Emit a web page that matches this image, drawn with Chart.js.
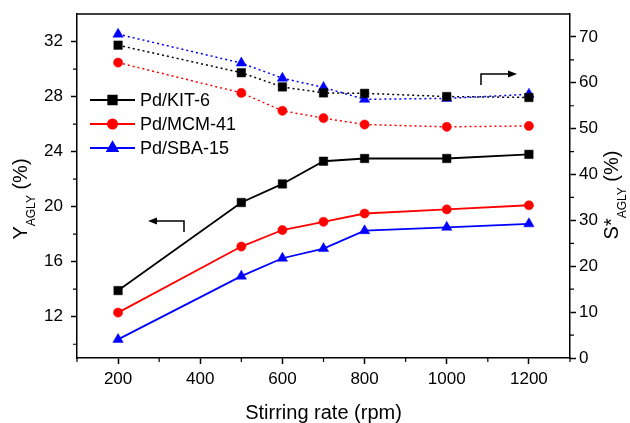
<!DOCTYPE html>
<html>
<head>
<meta charset="utf-8">
<script src="https://cdn.jsdelivr.net/npm/chart.js@4.4.1/dist/chart.umd.min.js"></script>
<style>
  html, body { margin: 0; padding: 0; background: #fff; }
  canvas { display: block; }
</style>
</head>
<body>
<canvas id="chart-stirring" width="630" height="423"></canvas>
<script>
// Stirring rate series: yield (left axis, solid) and selectivity (right axis, dotted)
const rates = [200, 500, 600, 700, 800, 1000, 1200];
const yieldKit = [13.9, 20.3, 21.65, 23.3, 23.5, 23.5, 23.8];
const yieldMcm = [12.3, 17.1, 18.3, 18.9, 19.5, 19.8, 20.1];
const yieldSba = [10.35, 14.95, 16.25, 16.95, 18.25, 18.5, 18.75];
const selKit = [68.2, 62.2, 59.1, 57.8, 57.7, 57.0, 56.8];
const selMcm = [64.4, 57.8, 53.9, 52.3, 50.9, 50.4, 50.6];
const selSba = [70.6, 64.3, 61.0, 59.0, 56.4, 56.6, 57.5];

const catalysts = ['Pd/KIT-6', 'Pd/MCM-41', 'Pd/SBA-15'];
const xTicks = [200, 400, 600, 800, 1000, 1200];
const yTicks = [12, 16, 20, 24, 28, 32];
const y1Ticks = [0, 10, 20, 30, 40, 50, 60, 70];

const FONT = "'Liberation Sans', Arial, sans-serif";
const colors = ['#000000', '#ff0000', '#0000ff'];
const styles = ['rect', 'circle', 'triangle'];
const radii = [6, 4.6, 6];

function pts(values) {
    return rates.map((r, i) => ({ x: r, y: values[i] }));
}

function series(label, values, idx, axis, dotted) {
    return {
        label: label,
        data: pts(values),
        yAxisID: axis,
        borderColor: colors[idx],
        backgroundColor: colors[idx],
        borderWidth: dotted ? 1.5 : 1.8,
        borderDash: dotted ? [2, 3] : [],
        pointStyle: styles[idx],
        pointRadius: radii[idx],
        pointBorderWidth: 0.5,
        pointBorderColor: colors[idx],
        pointBackgroundColor: colors[idx],
        tension: 0
    };
}

// Minor ticks, top frame line, legend, arrows and axis titles
const decorations = {
    id: 'decorations',
    afterDraw(chart) {
        const ctx = chart.ctx;
        const area = chart.chartArea;
        const sx = chart.scales.x, sy = chart.scales.y, sy1 = chart.scales.y1;
        ctx.save();
        ctx.strokeStyle = '#000';
        ctx.fillStyle = '#000';
        ctx.lineWidth = 1.5;

        // top frame
        ctx.beginPath();
        ctx.moveTo(area.left, area.top);
        ctx.lineTo(area.right, area.top);
        ctx.stroke();

        // minor ticks
        ctx.lineWidth = 1.2;
        ctx.beginPath();
        for (let v = 100; v <= 1300; v += 200) {
            const px = sx.getPixelForValue(v);
            ctx.moveTo(px, area.bottom);
            ctx.lineTo(px, area.bottom + 4);
        }
        for (let v = 10; v < 34; v += 4) {
            const py = sy.getPixelForValue(v);
            ctx.moveTo(area.left, py);
            ctx.lineTo(area.left - 4, py);
        }
        for (let v = 5; v < 75; v += 10) {
            const py = sy1.getPixelForValue(v);
            ctx.moveTo(area.right, py);
            ctx.lineTo(area.right + 4, py);
        }
        ctx.stroke();

        // legend
        ctx.font = '18px ' + FONT;
        ctx.textBaseline = 'middle';
        ctx.textAlign = 'left';
        catalysts.forEach((name, i) => {
            const y = 100 + i * 24;
            ctx.strokeStyle = colors[i];
            ctx.fillStyle = colors[i];
            ctx.lineWidth = 1.8;
            ctx.beginPath();
            ctx.moveTo(90, y);
            ctx.lineTo(135, y);
            ctx.stroke();
            Chart.helpers.drawPoint(ctx, { pointStyle: styles[i], radius: radii[i], borderWidth: 0.5 }, 112.5, y);
            ctx.fill();
            ctx.fillStyle = '#000';
            ctx.fillText(name, 140, y + 1);
        });

        // axis arrows
        ctx.strokeStyle = '#000';
        ctx.fillStyle = '#000';
        ctx.lineWidth = 1.5;
        ctx.beginPath();
        ctx.moveTo(184, 232);
        ctx.lineTo(184, 221);
        ctx.lineTo(155, 221);
        ctx.moveTo(481, 85);
        ctx.lineTo(481, 74);
        ctx.lineTo(510, 74);
        ctx.stroke();
        ctx.beginPath();
        ctx.moveTo(148, 221);
        ctx.lineTo(157, 217.5);
        ctx.lineTo(157, 224.5);
        ctx.closePath();
        ctx.moveTo(517, 74);
        ctx.lineTo(508, 70.5);
        ctx.lineTo(508, 77.5);
        ctx.closePath();
        ctx.fill();

        // axis titles
        ctx.textBaseline = 'alphabetic';
        ctx.font = '20px ' + FONT;
        ctx.textAlign = 'center';
        ctx.fillText('Stirring rate (rpm)', (area.left + area.right) / 2, 419);

        drawRotatedTitle(ctx, 27, 199, [['Y', 20, 0], ['AGLY', 12, 8], [' (%)', 20, 0]]);
        drawRotatedTitle(ctx, 618, 195, [['S*', 20, 0], ['AGLY', 12, 8], [' (%)', 20, 0]]);
        ctx.restore();
    }
};

function drawRotatedTitle(ctx, x, y, parts) {
    ctx.save();
    ctx.translate(x, y);
    ctx.rotate(-Math.PI / 2);
    ctx.textAlign = 'left';
    let total = 0;
    const widths = parts.map(([t, size]) => {
        ctx.font = size + 'px ' + FONT;
        const w = ctx.measureText(t).width;
        total += w;
        return w;
    });
    let cx = -total / 2;
    parts.forEach(([t, size, dy], i) => {
        ctx.font = size + 'px ' + FONT;
        ctx.fillText(t, cx, dy);
        cx += widths[i];
    });
    ctx.restore();
}

function axisBase(min, max, ticks, position) {
    return {
        type: 'linear',
        position: position,
        min: min,
        max: max,
        afterBuildTicks: s => { s.ticks = ticks.map(v => ({ value: v })); },
        ticks: {
            font: { family: FONT, size: 17 },
            color: '#000',
            padding: 4,
            callback: v => String(v)
        },
        grid: { drawOnChartArea: false, tickLength: 6, tickWidth: 1.5, color: '#000' },
        border: { color: '#000', width: 1.5 }
    };
}

const xAxis = axisBase(100, 1300, xTicks, 'bottom');
xAxis.ticks.maxRotation = 0;
xAxis.ticks.padding = 5;
xAxis.afterFit = s => { s.height = 65; s.paddingLeft = 0; s.paddingRight = 0; };

const yAxis = axisBase(9, 34, yTicks, 'left');
yAxis.ticks.padding = 8;
yAxis.afterFit = s => { s.width = 77; s.paddingTop = 0; s.paddingBottom = 0; };

const y1Axis = axisBase(0, 75, y1Ticks, 'right');
y1Axis.ticks.padding = 3;
y1Axis.afterFit = s => { s.width = 60; s.paddingTop = 0; s.paddingBottom = 0; };

new Chart(document.getElementById('chart-stirring'), {
    type: 'line',
    data: {
        datasets: [
            series('Pd/KIT-6', yieldKit, 0, 'y', false),
            series('Pd/MCM-41', yieldMcm, 1, 'y', false),
            series('Pd/SBA-15', yieldSba, 2, 'y', false),
            series('Pd/KIT-6 S*', selKit, 0, 'y1', true),
            series('Pd/MCM-41 S*', selMcm, 1, 'y1', true),
            series('Pd/SBA-15 S*', selSba, 2, 'y1', true)
        ]
    },
    options: {
        responsive: false,
        animation: false,
        devicePixelRatio: 1,
        layout: { padding: { top: 14, left: 0, right: 0, bottom: 0 } },
        plugins: { legend: { display: false }, tooltip: { enabled: false } },
        scales: { x: xAxis, y: yAxis, y1: y1Axis }
    },
    plugins: [decorations]
});
</script>
</body>
</html>
